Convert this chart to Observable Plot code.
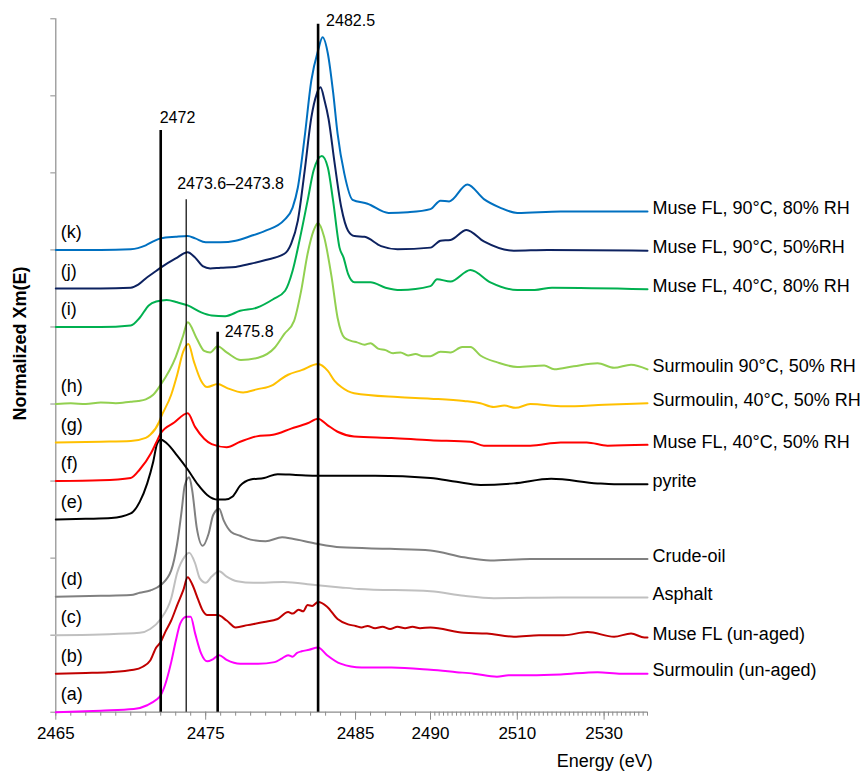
<!DOCTYPE html>
<html><head><meta charset="utf-8">
<script src="https://cdn.jsdelivr.net/npm/d3@7"></script>
<script src="https://cdn.jsdelivr.net/npm/@observablehq/plot@0.6"></script>
<style>body{margin:0;background:#fff}</style>
</head><body><div id="chart"></div>
<script>
// ---- data ----
const seriesLetters = ["(a)","(b)","(c)","(d)","(e)","(f)","(g)","(h)","(i)","(j)","(k)"];
const seriesLabels = ["Surmoulin (un-aged)","Muse FL (un-aged)","Asphalt","Crude-oil","pyrite",
  "Muse FL, 40°C, 50% RH","Surmoulin, 40°C, 50% RH","Surmoulin 90°C, 50% RH",
  "Muse FL, 40°C, 80% RH","Muse FL, 90°C, 50%RH","Muse FL, 90°C, 80% RH"];
const seriesOffsets = [0,0.5,1,1.5,2.5,3,3.5,4,5,5.5,6];
const seriesColors = ["#ff00ff","#c00000","#c0c0c0","#808080","#000000","#ff0000","#ffc000","#92d050","#00b050","#0d2260","#0070c0"];

const spectrumA = [[2465,0],[2468,0.02],[2470.2,0.04],[2471.1,0.09],[2471.7,0.16],[2472,0.22],[2472.3,0.36],[2472.7,0.65],[2473,0.92],[2473.3,1.15],[2473.7,1.24],[2474,1.24],[2474.3,1.02],[2474.7,0.76],[2475.1,0.66],[2475.5,0.69],[2475.9,0.74],[2476.4,0.68],[2477.3,0.63],[2478.5,0.63],[2479.6,0.65],[2480.1,0.70],[2480.5,0.74],[2480.8,0.72],[2481.1,0.77],[2481.4,0.79],[2481.9,0.81],[2482.5,0.84],[2483.1,0.74],[2484,0.63],[2485.4,0.58],[2487.4,0.58],[2490,0.55],[2496,0.52],[2500,0.50],[2505.3,0.46],[2508,0.48],[2513,0.48],[2520,0.49],[2528.5,0.52],[2534,0.50],[2540,0.50]];
const spectrumB = [[2465,0],[2467,0.01],[2468.5,0.02],[2470.2,0.05],[2470.8,0.09],[2471.3,0.17],[2471.7,0.34],[2472,0.41],[2472.3,0.54],[2472.7,0.69],[2473.1,0.89],[2473.5,1.08],[2473.8,1.25],[2474.1,1.16],[2474.5,0.96],[2474.8,0.82],[2475.1,0.76],[2475.8,0.76],[2476.4,0.69],[2477,0.60],[2477.8,0.63],[2478.9,0.67],[2479.8,0.71],[2480.5,0.80],[2480.8,0.78],[2481.2,0.83],[2481.5,0.81],[2481.8,0.89],[2482.1,0.88],[2482.5,0.93],[2483.1,0.87],[2483.8,0.71],[2484.5,0.64],[2485,0.62],[2485.4,0.60],[2485.8,0.62],[2486.3,0.59],[2486.8,0.61],[2487.3,0.58],[2487.8,0.61],[2488.3,0.59],[2488.8,0.61],[2489.3,0.59],[2490,0.60],[2497.7,0.53],[2503,0.52],[2509.2,0.48],[2515,0.50],[2520.7,0.50],[2526.2,0.54],[2532.3,0.48],[2536.2,0.52],[2539.3,0.47],[2540,0.47]];
const spectrumC = [[2465,0],[2468,0.01],[2470.6,0.03],[2471.3,0.08],[2472,0.21],[2472.7,0.48],[2473.1,0.81],[2473.6,1.02],[2473.9,1.07],[2474.3,0.93],[2474.6,0.74],[2475,0.68],[2475.4,0.76],[2475.9,0.83],[2476.4,0.76],[2477.1,0.70],[2478.2,0.68],[2480.2,0.69],[2482.3,0.65],[2484,0.62],[2485.2,0.60],[2490,0.57],[2497.7,0.51],[2504.6,0.48],[2520,0.49],[2540,0.49]];
const spectrumD = [[2465,0],[2468,0.01],[2470,0.02],[2470.6,0.05],[2471.3,0.08],[2472,0.15],[2472.7,0.34],[2473.1,0.69],[2473.4,1.12],[2473.6,1.44],[2473.9,1.55],[2474.1,1.38],[2474.4,0.90],[2474.8,0.66],[2475.2,0.82],[2475.5,1.06],[2475.9,1.14],[2476.2,0.99],[2476.7,0.84],[2477.3,0.79],[2478,0.74],[2479,0.72],[2480.1,0.77],[2480.8,0.75],[2482.3,0.69],[2484,0.64],[2487.3,0.62],[2490,0.60],[2497.7,0.51],[2503.8,0.47],[2513,0.49],[2540,0.49]];
const spectrumE = [[2465,0],[2467,0.01],[2468.7,0.02],[2470,0.08],[2470.6,0.23],[2471.1,0.47],[2471.5,0.75],[2471.75,0.98],[2472,1.04],[2472.4,0.99],[2473.1,0.83],[2473.8,0.65],[2474.5,0.45],[2475.1,0.32],[2475.8,0.26],[2476.3,0.26],[2476.8,0.30],[2477.3,0.44],[2478,0.52],[2478.9,0.54],[2479.8,0.59],[2481,0.58],[2482.3,0.57],[2484.1,0.57],[2486.3,0.57],[2490,0.54],[2496,0.49],[2501.5,0.45],[2509.2,0.47],[2517.8,0.53],[2528.5,0.47],[2532.3,0.46],[2540,0.46]];
const spectrumF = [[2465,0],[2468,0.01],[2470,0.04],[2470.6,0.15],[2471.35,0.36],[2471.7,0.50],[2472,0.62],[2472.9,0.76],[2473.8,0.88],[2474.3,0.70],[2474.9,0.55],[2475.4,0.48],[2476.4,0.44],[2477.3,0.51],[2478.4,0.58],[2479.5,0.60],[2480.7,0.68],[2481.8,0.75],[2482.5,0.81],[2483.1,0.73],[2483.8,0.64],[2484.9,0.58],[2487.4,0.56],[2490,0.53],[2499.2,0.51],[2502.3,0.46],[2513,0.46],[2520,0.50],[2526,0.50],[2530.8,0.46],[2540,0.47]];
const spectrumG = [[2465,0],[2468,0.01],[2470,0.02],[2471,0.06],[2471.3,0.10],[2471.9,0.27],[2472,0.32],[2472.7,0.62],[2473.1,0.88],[2473.5,1.18],[2473.85,1.28],[2474.2,1.06],[2474.7,0.80],[2475.1,0.72],[2475.8,0.76],[2476.4,0.71],[2477.5,0.65],[2478.4,0.69],[2479.5,0.75],[2480,0.82],[2480.5,0.88],[2481.4,0.94],[2482.5,1.02],[2483.15,0.93],[2483.6,0.80],[2484.05,0.72],[2484.9,0.64],[2487.8,0.59],[2490,0.57],[2497.7,0.54],[2501.5,0.51],[2504.6,0.46],[2507,0.48],[2509.6,0.45],[2513,0.50],[2520.7,0.47],[2530,0.49],[2540,0.51]];
const spectrumH = [[2465,0],[2466,0.01],[2467,0],[2468,0.02],[2469,0.01],[2470,0.03],[2470.5,0.04],[2471,0.06],[2471.5,0.12],[2472,0.25],[2473,0.61],[2473.5,0.89],[2473.8,1.06],[2474.4,0.85],[2474.9,0.69],[2475.3,0.67],[2475.8,0.75],[2476.4,0.67],[2477.35,0.57],[2478.5,0.60],[2479.6,0.73],[2480.25,0.91],[2480.9,1.08],[2481.37,1.47],[2481.8,1.95],[2482.2,2.25],[2482.5,2.35],[2482.9,2.17],[2483.4,1.65],[2483.8,1.12],[2484.26,0.86],[2484.7,0.82],[2485.1,0.80],[2485.6,0.77],[2486,0.79],[2486.5,0.72],[2487,0.70],[2487.5,0.66],[2488,0.67],[2488.5,0.63],[2489,0.65],[2489.5,0.62],[2490,0.62],[2492.3,0.68],[2494.6,0.67],[2497.3,0.74],[2499.2,0.74],[2501.5,0.63],[2505.4,0.54],[2510,0.48],[2516.2,0.50],[2518.5,0.45],[2523,0.49],[2528.5,0.53],[2532.3,0.47],[2536.2,0.51],[2540,0.45]];
const spectrumI = [[2465,0],[2468,0],[2470,0.02],[2470.6,0.12],[2471.2,0.28],[2471.7,0.33],[2472.4,0.35],[2473.1,0.32],[2473.8,0.28],[2474.7,0.19],[2475.4,0.15],[2476.3,0.14],[2477.3,0.21],[2478.4,0.25],[2479.5,0.36],[2480.3,0.47],[2480.8,0.73],[2481.3,1.16],[2481.8,1.64],[2482.2,2.03],[2482.75,2.22],[2483.15,2.07],[2483.5,1.64],[2483.93,1.03],[2484.2,0.90],[2484.5,0.69],[2484.93,0.58],[2486,0.58],[2487,0.51],[2488,0.48],[2490,0.53],[2491.5,0.62],[2494.6,0.59],[2499.2,0.74],[2503.8,0.58],[2510,0.48],[2514,0.48],[2518,0.51],[2540,0.49]];
const spectrumJ = [[2465,0],[2468,0],[2470,0.01],[2470.5,0.05],[2471,0.13],[2471.5,0.20],[2472,0.27],[2473,0.39],[2473.8,0.47],[2474.3,0.40],[2474.8,0.29],[2475.3,0.26],[2476,0.27],[2477,0.28],[2478,0.32],[2479,0.37],[2480.25,0.45],[2480.7,0.58],[2481.15,0.88],[2481.6,1.52],[2482.05,2.22],[2482.4,2.52],[2482.66,2.61],[2482.93,2.44],[2483.2,2.20],[2483.6,1.63],[2484.05,1.05],[2484.5,0.75],[2484.93,0.68],[2485.6,0.67],[2486.7,0.55],[2487.8,0.51],[2490,0.53],[2492.3,0.62],[2494.6,0.63],[2498.3,0.76],[2502.3,0.61],[2509.2,0.49],[2517,0.50],[2540,0.49]];
const spectrumK = [[2465,0],[2468,0],[2470,0.01],[2471,0.06],[2471.5,0.11],[2472,0.15],[2473,0.17],[2473.8,0.18],[2474.3,0.15],[2475,0.10],[2476,0.10],[2477,0.12],[2478,0.18],[2479,0.25],[2480.25,0.39],[2480.8,0.55],[2481.15,0.81],[2481.6,1.46],[2482.05,2.20],[2482.5,2.59],[2482.8,2.76],[2483.15,2.55],[2483.5,2.05],[2483.8,1.51],[2484.25,0.99],[2484.8,0.65],[2485.8,0.60],[2487.2,0.48],[2488.5,0.49],[2490,0.53],[2492.3,0.64],[2494.3,0.63],[2498.5,0.85],[2502.3,0.66],[2506,0.55],[2510,0.48],[2520,0.50],[2530,0.50],[2540,0.50]];
const spectra = [spectrumA,spectrumB,spectrumC,spectrumD,spectrumE,spectrumF,spectrumG,spectrumH,spectrumI,spectrumJ,spectrumK];

const xTickValues = [2465,2475,2485,2490,2510,2530];
const yTickValues = [0,1,2,3,4,5,6,7,8,9];
const markerEnergies = [2472, 2473.7, 2475.8, 2482.5];
const markerLabels = ["2472","2473.6–2473.8","2475.8","2482.5"];
const markerTops = [7.55, 6.65, 4.93, 8.93];

// ---- derived tables ----
const idx = d3.range(seriesLabels.length);
const rowsFor = i => spectra[i].map(([E, v]) => ({E, y: seriesOffsets[i] + v}));
const minorTicks = d3.range(2465, 2541, 1);
const gray = "#8c8c8c";
const font = "'Liberation Sans', Arial, Helvetica, sans-serif";

const lineMarks = idx.map(i => Plot.line(rowsFor(i), {x: "E", y: "y", stroke: seriesColors[i], strokeWidth: 2, curve: "monotone-x"}));
const markerText = (k, dx, dy) => Plot.text([k], {x: i => markerEnergies[i], y: i => markerTops[i], text: i => markerLabels[i], textAnchor: "start", dx, dy, fontSize: 16, fill: "#000"});

const chart = Plot.plot({
  width: 860, height: 776,
  marginLeft: 55.3, marginRight: 213, marginTop: 18.3, marginBottom: 64.3,
  style: {fontFamily: font, fontSize: "17px", background: "#fff", overflow: "visible"},
  x: {type: "linear", domain: [2465, 2490, 2540], range: [55.3, 430, 647], label: null},
  y: {type: "linear", domain: [0, 9], label: null},
  marks: [
    Plot.axisX(minorTicks, {tickSize: 4, tickFormat: () => "", stroke: gray, label: null}),
    Plot.axisX(xTickValues, {tickSize: 8, tickPadding: 7, tickFormat: d => String(d), stroke: gray, fill: "#000", fontSize: 17, label: null}),
    Plot.axisY(yTickValues, {tickSize: 5, tickFormat: () => "", stroke: gray, label: null}),
    Plot.ruleY([0], {stroke: gray, strokeWidth: 1.2}),
    Plot.ruleX([2465], {y1: 0, y2: 9, stroke: gray, strokeWidth: 1.2}),
    ...lineMarks,
    Plot.ruleX([0, 2, 3], {x: i => markerEnergies[i], y1: 0, y2: i => markerTops[i], stroke: "#000", strokeWidth: 2.6}),
    Plot.ruleX([1], {x: i => markerEnergies[i], y1: 0, y2: i => markerTops[i], stroke: "#000", strokeWidth: 1.2}),
    markerText(0, -1, -13),
    markerText(1, -9, -16),
    markerText(2, 7, 0),
    markerText(3, 8, -3),
    Plot.text(idx, {x: () => 2465, y: i => seriesOffsets[i] + 0.23, text: i => seriesLetters[i], dx: 5, textAnchor: "start", fontSize: 18, fill: "#000"}),
    Plot.text(idx, {x: () => 2540, y: i => seriesOffsets[i] + spectra[i][spectra[i].length - 1][1], text: i => seriesLabels[i], dx: 5, dy: -3, textAnchor: "start", fontSize: 18, fill: "#000"}),
    Plot.text(["Normalized Xm(E)"], {frameAnchor: "left", dx: -35.3, dy: -22, rotate: -90, textAnchor: "middle", fontSize: 18, fontWeight: "bold", fill: "#000"}),
    Plot.text(["Energy (eV)"], {frameAnchor: "bottom", dx: 253, dy: 54.7, textAnchor: "middle", fontSize: 18, fill: "#000"})
  ]
});
document.getElementById("chart").appendChild(chart);
</script>
</body></html>
